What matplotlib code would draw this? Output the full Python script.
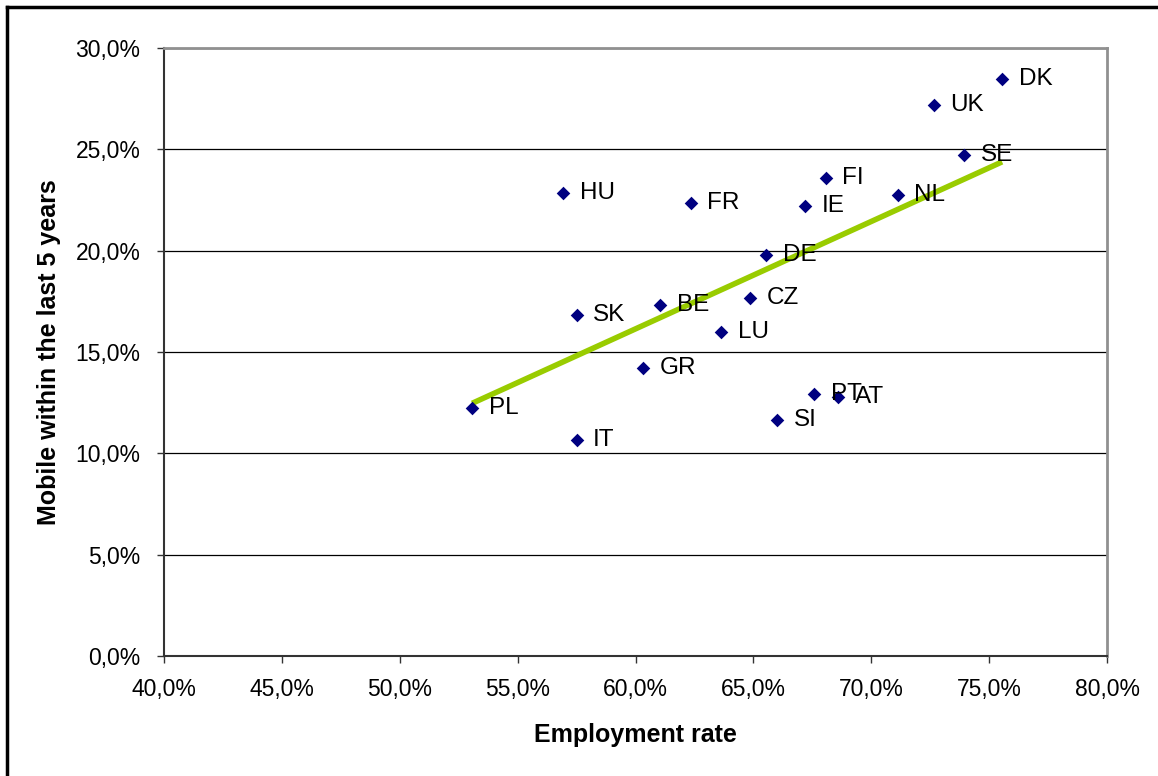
import numpy as np
import matplotlib.pyplot as plt
from matplotlib.lines import Line2D
from matplotlib.ticker import FuncFormatter

plt.rcParams['font.family'] = ['Liberation Sans', 'DejaVu Sans']

# country data
countries = ["DK", "UK", "SE", "FI", "NL", "HU", "FR", "IE", "DE", "CZ",
             "BE", "SK", "LU", "GR", "PT", "AT", "PL", "SI", "IT"]
employment = [75.55, 72.65, 73.93, 68.06, 71.12, 56.93, 62.34, 67.18, 65.55, 64.84,
              61.04, 57.50, 63.62, 60.33, 67.57, 68.61, 53.07, 66.02, 57.50]
mobile = [28.49, 27.17, 24.72, 23.60, 22.75, 22.83, 22.37, 22.19, 19.77, 17.68,
          17.32, 16.84, 16.00, 14.23, 12.91, 12.78, 12.24, 11.63, 10.66]

x = np.array(employment)
y = np.array(mobile)

fig = plt.figure(figsize=(11.58, 7.76), dpi=100)
ax = fig.add_axes([164/1158, 1 - 656/776, (1107-164)/1158, (656-48)/776])

# linear trend
k, b = np.polyfit(x, y, 1)
xt = np.array([x.min(), x.max()])
ax.plot(xt, k*xt + b, color='#99CC00', lw=4, solid_capstyle='butt', zorder=2)

ax.scatter(x, y, marker='D', s=48, color='#000080', zorder=3, linewidths=0)
for c, xi, yi in zip(countries, x, y):
    ax.annotate(c, (xi, yi), xytext=(12, 0), textcoords='offset points',
                va='center', ha='left', fontsize=17.5, zorder=4)

ax.set_xlim(40, 80)
ax.set_ylim(0, 30)
ax.set_xticks(np.arange(40, 81, 5))
ax.set_yticks(np.arange(0, 31, 5))
fmt = FuncFormatter(lambda v, p: f"{v:.1f}%".replace('.', ','))
ax.xaxis.set_major_formatter(fmt)
ax.yaxis.set_major_formatter(fmt)
ax.tick_params(labelsize=16.5, direction='out', length=5, width=1, color='#333333')
ax.tick_params(axis='x', pad=11)
ax.tick_params(axis='y', pad=12)
ax.grid(axis='y', color='black', lw=0.9)
ax.set_axisbelow(True)

for s in ['top', 'right']:
    ax.spines[s].set_color('#909090')
    ax.spines[s].set_linewidth(2)
for s in ['left', 'bottom']:
    ax.spines[s].set_color('#333333')
    ax.spines[s].set_linewidth(1.5)

ax.set_xlabel("Employment rate", fontsize=18, fontweight='bold', labelpad=16)
ax.set_ylabel("Mobile within the last 5 years", fontsize=18, fontweight='bold', labelpad=10)

# outer frame (top and left edges only)
fig.add_artist(Line2D([7/1158, 1], [1 - 7/776, 1 - 7/776], color='black', lw=2.5,
                      transform=fig.transFigure))
fig.add_artist(Line2D([7/1158, 7/1158], [0, 1 - 7/776], color='black', lw=2.5,
                      transform=fig.transFigure))

fig.savefig("out.png", dpi=100)
